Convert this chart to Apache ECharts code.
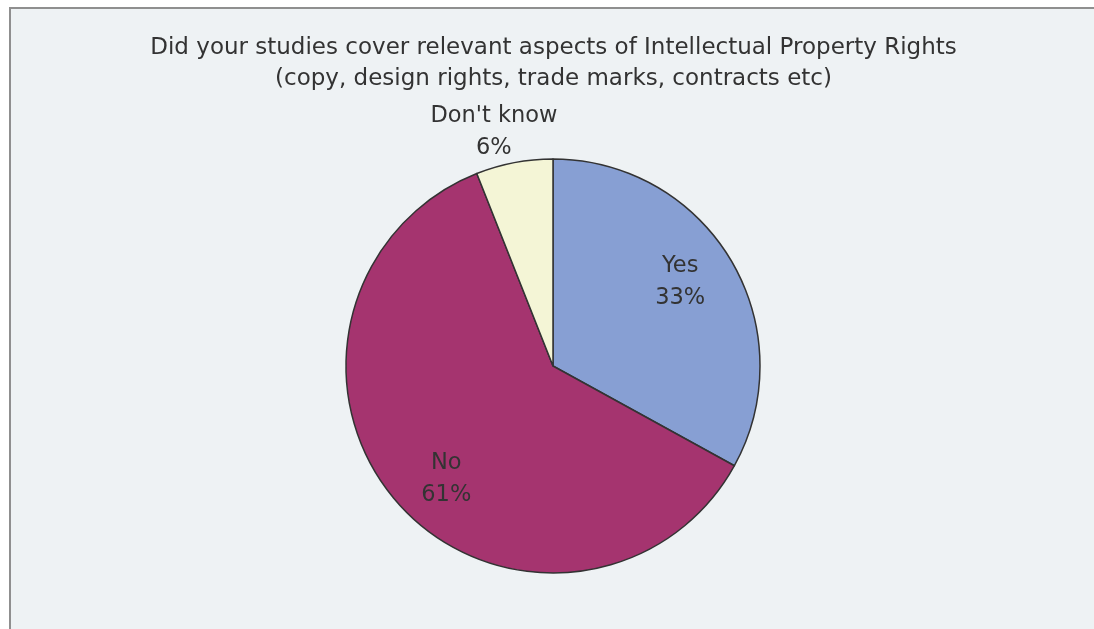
<!DOCTYPE html>
<html>
<head>
<meta charset="utf-8">
<script src="https://cdn.jsdelivr.net/npm/echarts@6/dist/echarts.min.js"></script>
<style>
html,body{margin:0;padding:0;background:#ffffff;width:1094px;height:629px;overflow:hidden;}
#chart{position:absolute;left:9px;top:7px;width:1085px;height:622px;border-left:2px solid #8f8f8f;border-top:2px solid #8f8f8f;background:#eef2f4;}
</style>
</head>
<body>
<div id="chart"></div>
<script>
var titleLines = ["Did your studies cover relevant aspects of Intellectual Property Rights", "(copy, design rights, trade marks, contracts etc)"];
var categories = ["Yes", "No", "Don't know"];
var values = [33, 61, 6];
var percentLabels = ["33%", "61%", "6%"];
var colors = ["#879fd3", "#a5346f", "#f4f5d6"];

var chart = echarts.init(document.getElementById('chart'), null, {renderer: 'canvas'});
var center = [542, 357];
var R = 207;
var font = "'DejaVu Sans', Verdana, sans-serif";
var labelOffsets = [[-9, -3], [12, 9], [-13, 8]];

function mkData(showFn) {
  return categories.map(function (c, i) {
    return {
      name: c,
      value: values[i],
      label: {show: showFn(i), offset: labelOffsets[i]}
    };
  });
}

var labelStyle = {
  position: 'inside',
  fontFamily: font, fontSize: 22.5, color: '#333333', lineHeight: 32,
  formatter: function (p) { return p.name + '\n' + percentLabels[p.dataIndex]; }
};

var option = {
  animation: false,
  title: {
    text: titleLines.join('\n'),
    left: 'center',
    top: 19,
    textStyle: {fontFamily: font, fontSize: 23, fontWeight: 'normal', color: '#333333', lineHeight: 31}
  },
  series: [
    {
      type: 'pie',
      center: center,
      radius: [0, R],
      startAngle: 90,
      clockwise: true,
      silent: true,
      label: {show: false},
      labelLine: {show: false},
      itemStyle: {borderColor: '#333333', borderWidth: 1.5},
      data: categories.map(function (c, i) {
        return {name: c, value: values[i], itemStyle: {color: colors[i]}};
      })
    },
    {
      type: 'pie',
      center: center,
      radius: [R * 0.5, R],
      startAngle: 90,
      clockwise: true,
      silent: true,
      itemStyle: {color: 'rgba(0,0,0,0)', borderWidth: 0},
      labelLine: {show: false},
      label: labelStyle,
      data: mkData(function (i) { return i < 2; })
    },
    {
      type: 'pie',
      center: center,
      radius: [R, R + 72],
      startAngle: 90,
      clockwise: true,
      silent: true,
      itemStyle: {color: 'rgba(0,0,0,0)', borderWidth: 0},
      labelLine: {show: false},
      label: labelStyle,
      data: mkData(function (i) { return i === 2; })
    }
  ]
};
chart.setOption(option);
</script>
</body>
</html>
